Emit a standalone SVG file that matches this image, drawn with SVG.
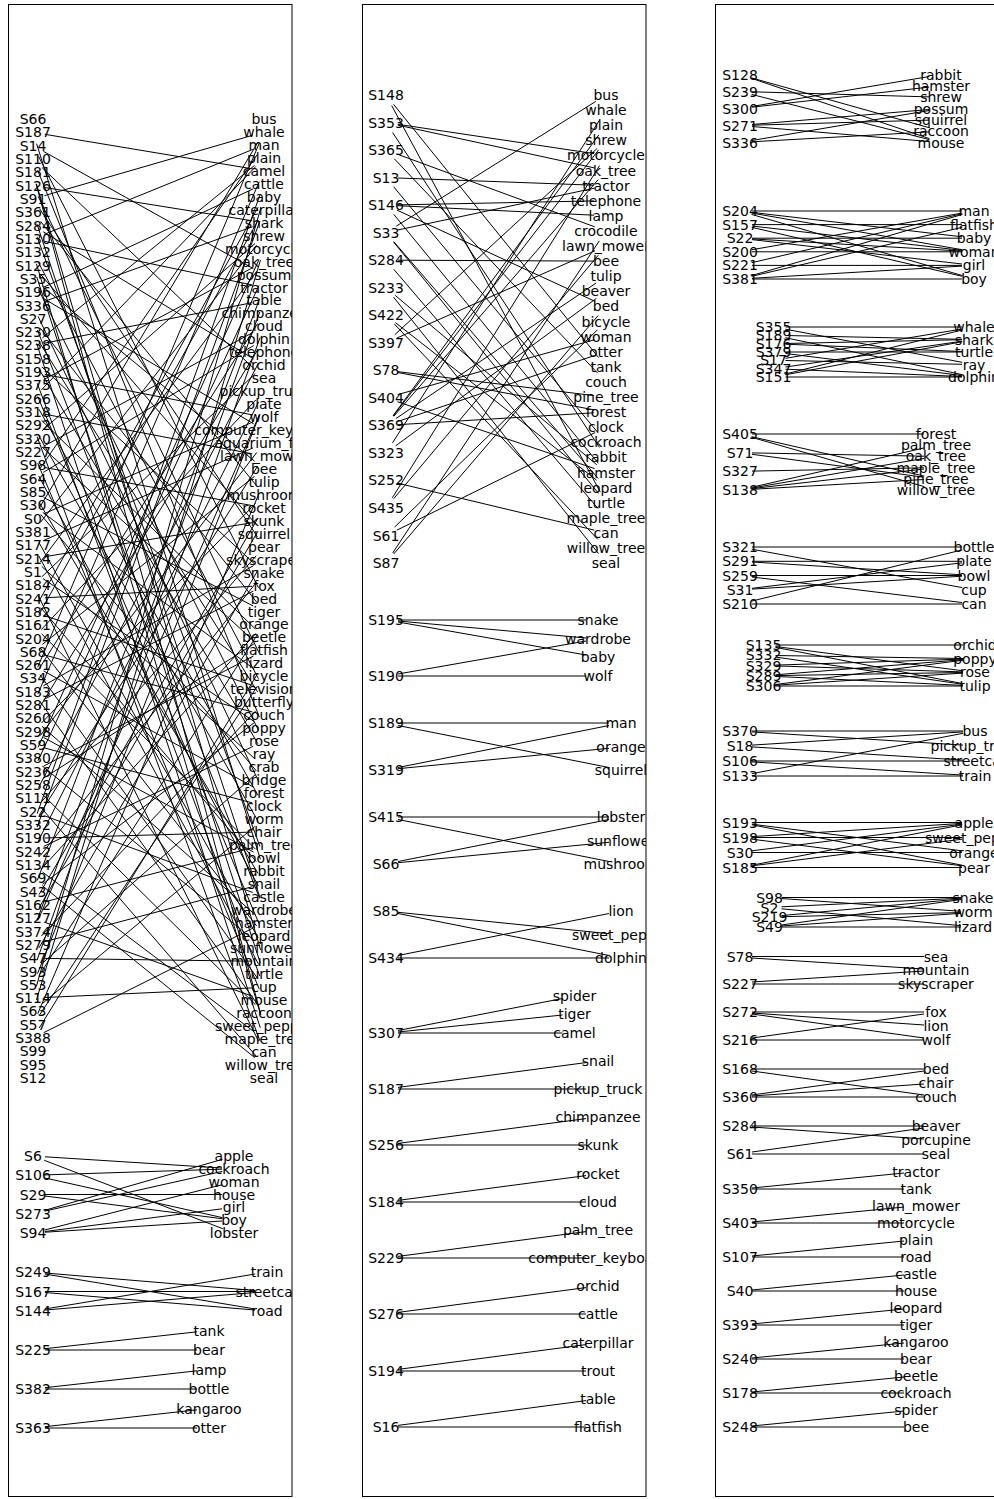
<svg xmlns="http://www.w3.org/2000/svg" width="994" height="1499" viewBox="0 0 994 1499">
<style>
text{font-family:"DejaVu Sans",sans-serif;font-size:14px;dominant-baseline:central;text-anchor:middle;fill:#000}
line{stroke:#000;stroke-width:1}
.frame{fill:#fff;stroke:#000;stroke-width:1}
</style>
<defs>
<clipPath id="c1"><rect x="8" y="4" width="284" height="1493"/></clipPath>
<clipPath id="c2"><rect x="362" y="4" width="284" height="1493"/></clipPath>
<clipPath id="c3"><rect x="715" y="4" width="284" height="1493"/></clipPath>
</defs>
<rect width="994" height="1499" fill="#fff"/>
<rect class="frame" x="8.5" y="4.5" width="283.5" height="1492"/>
<rect class="frame" x="362.5" y="4.5" width="283.5" height="1492"/>
<rect class="frame" x="715.5" y="4.5" width="290" height="1492"/>
<g id="connectors">
<g id="edges-panel1" clip-path="url(#c1)">
<line x1="44.8" y1="134.3" x2="252.2" y2="168.8"/><line x1="36.6" y1="143.7" x2="260.4" y2="859.3"/>
<line x1="38.5" y1="156.3" x2="258.5" y2="587.8"/><line x1="43.5" y1="151.4" x2="253.5" y2="268.7"/>
<line x1="41.7" y1="167.3" x2="255.3" y2="369.9"/><line x1="37.6" y1="170.1" x2="259.4" y2="717"/>
<line x1="36.4" y1="183.8" x2="260.6" y2="949.9"/><line x1="36.1" y1="183.9" x2="260.9" y2="1014.6"/>
<line x1="38.2" y1="196.4" x2="258.8" y2="652.5"/><line x1="44.8" y1="187.5" x2="252.2" y2="220.8"/>
<line x1="44.5" y1="195.6" x2="252.5" y2="135.3"/><line x1="39.6" y1="208.8" x2="257.4" y2="536.8"/>
<line x1="40.6" y1="221.5" x2="256.4" y2="485.5"/><line x1="36.8" y1="223.6" x2="260.2" y2="898.2"/>
<line x1="37.1" y1="236.9" x2="259.9" y2="846.4"/><line x1="43.3" y1="231.8" x2="253.7" y2="359"/>
<line x1="44.7" y1="241.4" x2="252.3" y2="285"/><line x1="44.1" y1="234.4" x2="252.9" y2="149.4"/>
<line x1="36.4" y1="263.7" x2="260.6" y2="1014.7"/><line x1="38.6" y1="262.8" x2="258.4" y2="678.6"/>
<line x1="40.8" y1="274.6" x2="256.2" y2="524.6"/><line x1="36.7" y1="276.9" x2="260.3" y2="963"/>
<line x1="38.4" y1="289.5" x2="258.6" y2="730.4"/><line x1="42.3" y1="286.4" x2="254.7" y2="461.3"/>
<line x1="43.3" y1="298.3" x2="253.7" y2="423.9"/><line x1="43.9" y1="287.1" x2="253.1" y2="188.9"/>
<line x1="44.3" y1="301.5" x2="252.7" y2="226.7"/><line x1="38.1" y1="316.4" x2="258.9" y2="782"/>
<line x1="37.4" y1="330" x2="259.6" y2="898.4"/><line x1="40.4" y1="328.2" x2="256.6" y2="602.1"/>
<line x1="39.3" y1="342.3" x2="257.7" y2="692"/><line x1="36.7" y1="343.5" x2="260.3" y2="1027.8"/>
<line x1="42.4" y1="337.9" x2="254.6" y2="165.4"/><line x1="44.8" y1="343.1" x2="252.2" y2="302.7"/>
<line x1="41.8" y1="366.9" x2="255.2" y2="564.5"/><line x1="39.1" y1="369.1" x2="257.9" y2="743.7"/>
<line x1="37.2" y1="383.3" x2="259.8" y2="976.1"/><line x1="44.8" y1="374.4" x2="252.2" y2="414.8"/>
<line x1="43.6" y1="379.7" x2="253.4" y2="267.3"/><line x1="37.7" y1="396.5" x2="259.3" y2="924.4"/>
<line x1="38.9" y1="409.2" x2="258.1" y2="795.4"/><line x1="41.3" y1="390" x2="255.7" y2="166.6"/>
<line x1="44.8" y1="414.2" x2="252.2" y2="453.8"/><line x1="41.6" y1="420.4" x2="255.4" y2="629"/>
<line x1="37.1" y1="436.7" x2="259.9" y2="1040.8"/><line x1="38.9" y1="435.9" x2="258.1" y2="821.3"/>
<line x1="41.8" y1="446.8" x2="255.2" y2="642.3"/><line x1="42" y1="430.8" x2="255" y2="243.5"/>
<line x1="43.5" y1="446.3" x2="253.5" y2="332.1"/><line x1="37.7" y1="463.1" x2="259.3" y2="989.2"/>
<line x1="38.7" y1="475.9" x2="258.3" y2="886"/><line x1="44.8" y1="467.5" x2="252.2" y2="505.6"/>
<line x1="39.8" y1="468.8" x2="257.2" y2="154.7"/><line x1="43.3" y1="472.4" x2="253.7" y2="345.5"/>
<line x1="43.7" y1="497.5" x2="253.3" y2="606"/><line x1="39.1" y1="502.3" x2="257.9" y2="873.3"/>
<line x1="40.7" y1="514.5" x2="256.3" y2="770.8"/><line x1="42.7" y1="512.4" x2="254.3" y2="669.2"/>
<line x1="44" y1="513.8" x2="253" y2="421.9"/><line x1="39.1" y1="508.3" x2="257.9" y2="142.3"/>
<line x1="40.4" y1="522.4" x2="256.6" y2="245.1"/><line x1="38.9" y1="542.4" x2="258.1" y2="937.9"/>
<line x1="38.7" y1="555.8" x2="258.3" y2="963.8"/><line x1="44" y1="540.3" x2="253" y2="447.9"/>
<line x1="44.8" y1="556.7" x2="252.2" y2="522.7"/><line x1="41.9" y1="566.6" x2="255.1" y2="759"/>
<line x1="43" y1="578.6" x2="254" y2="721.4"/><line x1="40.2" y1="562.3" x2="256.8" y2="271.2"/>
<line x1="41.7" y1="576.9" x2="255.3" y2="373.5"/><line x1="38.4" y1="596" x2="258.6" y2="1041.3"/>
<line x1="40.8" y1="607.7" x2="256.2" y2="861.5"/><line x1="45" y1="597.8" x2="252" y2="586.3"/>
<line x1="44.4" y1="615.6" x2="252.6" y2="685.4"/><line x1="38.9" y1="601.3" x2="258.1" y2="207.3"/>
<line x1="38.9" y1="614.7" x2="258.1" y2="220.2"/><line x1="41.5" y1="633.7" x2="255.5" y2="849.2"/>
<line x1="40.3" y1="648" x2="256.7" y2="926"/><line x1="41.2" y1="629.7" x2="255.8" y2="400"/>
<line x1="42.4" y1="644.4" x2="254.6" y2="476.3"/><line x1="44.6" y1="655" x2="252.4" y2="712"/>
<line x1="43.5" y1="670.9" x2="253.5" y2="787.1"/><line x1="40" y1="674.8" x2="257" y2="977.6"/>
<line x1="37.7" y1="667.3" x2="259.3" y2="143.1"/><line x1="39.4" y1="668.3" x2="257.6" y2="323.5"/>
<line x1="40" y1="701.5" x2="257" y2="1003.5"/><line x1="43.4" y1="685.8" x2="253.6" y2="565.6"/>
<line x1="43.7" y1="699.6" x2="253.3" y2="591.1"/><line x1="37.8" y1="694.1" x2="259.2" y2="181.8"/>
<line x1="39.2" y1="708.1" x2="257.8" y2="349.6"/><line x1="42" y1="726.3" x2="255" y2="914.6"/>
<line x1="43.5" y1="737.4" x2="253.5" y2="852"/><line x1="41.4" y1="723.1" x2="255.6" y2="503.4"/>
<line x1="40.3" y1="735.5" x2="256.7" y2="452.5"/><line x1="44.6" y1="748" x2="252.4" y2="802.9"/>
<line x1="42.3" y1="766" x2="254.7" y2="940.8"/><line x1="38" y1="747.4" x2="259" y2="259.6"/>
<line x1="38" y1="760.8" x2="259" y2="285.4"/><line x1="43.6" y1="766.1" x2="253.4" y2="656"/>
<line x1="43.1" y1="778.5" x2="253.9" y2="643.9"/><line x1="41.6" y1="793.5" x2="255.4" y2="1004.7"/>
<line x1="40.9" y1="807.4" x2="256.1" y2="1056"/><line x1="38.5" y1="787.6" x2="258.5" y2="363"/>
<line x1="40.9" y1="802.5" x2="256.1" y2="555.8"/><line x1="44.3" y1="815.7" x2="252.7" y2="892.5"/>
<line x1="37.1" y1="813.7" x2="259.9" y2="195.1"/><line x1="39.4" y1="814.8" x2="257.6" y2="466.2"/>
<line x1="45" y1="838" x2="252" y2="832.1"/><line x1="37.1" y1="827" x2="259.9" y2="221"/>
<line x1="38.4" y1="840.9" x2="258.6" y2="401.9"/><line x1="43.8" y1="846.4" x2="253.2" y2="746.3"/>
<line x1="42.6" y1="872.1" x2="254.4" y2="1032"/><line x1="40.4" y1="855.5" x2="256.6" y2="582"/>
<line x1="41.1" y1="869.3" x2="255.9" y2="633.3"/><line x1="42.3" y1="885.7" x2="254.7" y2="1057.6"/>
<line x1="42.5" y1="884.3" x2="254.5" y2="722.5"/><line x1="37.3" y1="880.4" x2="259.7" y2="298.7"/>
<line x1="39" y1="894.6" x2="258" y2="518.1"/><line x1="44.6" y1="901.9" x2="252.4" y2="847.8"/>
<line x1="44.3" y1="922.2" x2="252.7" y2="996.3"/><line x1="39" y1="907.9" x2="258" y2="531.1"/>
<line x1="37.1" y1="920.2" x2="259.9" y2="311.7"/><line x1="37.8" y1="920.5" x2="259.2" y2="415.1"/>
<line x1="44.6" y1="941.7" x2="252.4" y2="886.7"/><line x1="41.3" y1="936.1" x2="255.7" y2="710.9"/>
<line x1="39" y1="947.8" x2="258" y2="570"/><line x1="45" y1="958.4" x2="252" y2="961.2"/>
<line x1="42" y1="963.6" x2="255" y2="774.9"/><line x1="37" y1="960.2" x2="260" y2="337.7"/>
<line x1="37.5" y1="973.7" x2="259.5" y2="415.2"/><line x1="39.5" y1="974.7" x2="257.5" y2="634.5"/>
<line x1="45" y1="997.5" x2="252" y2="987.9"/><line x1="36.3" y1="986.6" x2="260.7" y2="208.3"/>
<line x1="36.5" y1="999.9" x2="260.5" y2="260.1"/><line x1="42.2" y1="1003.7" x2="254.8" y2="826.5"/>
<line x1="39.6" y1="1014.9" x2="257.4" y2="686.2"/><line x1="37.7" y1="1013.8" x2="259.3" y2="492.9"/>
<line x1="43.7" y1="1032.7" x2="253.3" y2="927.9"/><line x1="39.3" y1="1027.9" x2="257.7" y2="673.5"/>
<line x1="45" y1="1156.8" x2="222" y2="1168"/>
<line x1="44.2" y1="1160.3" x2="222.8" y2="1228.7"/>
<line x1="45" y1="1174.9" x2="222" y2="1169.2"/>
<line x1="44.7" y1="1177.9" x2="222.3" y2="1217.6"/>
<line x1="45" y1="1194.5" x2="222" y2="1194.5"/>
<line x1="44.9" y1="1196" x2="222.1" y2="1218.7"/>
<line x1="44.5" y1="1210.4" x2="222.5" y2="1159.3"/>
<line x1="44.7" y1="1211.1" x2="222.3" y2="1171.4"/>
<line x1="44.6" y1="1230" x2="222.4" y2="1184.7"/>
<line x1="44.9" y1="1231.5" x2="222.1" y2="1208.8"/>
<line x1="45" y1="1232.2" x2="222" y2="1221"/>
<line x1="45" y1="1273" x2="255" y2="1290.5"/>
<line x1="44.8" y1="1274" x2="255.2" y2="1309"/>
<line x1="45" y1="1291.5" x2="255" y2="1291.5"/>
<line x1="45" y1="1292.5" x2="255" y2="1310"/>
<line x1="44.8" y1="1309" x2="255.2" y2="1274"/>
<line x1="45" y1="1310" x2="255" y2="1292.5"/>
<line x1="45" y1="1348.7" x2="197" y2="1331.8"/>
<line x1="45" y1="1350" x2="197" y2="1350"/>
<line x1="45" y1="1387.7" x2="197" y2="1370.8"/>
<line x1="45" y1="1389" x2="197" y2="1389"/>
<line x1="45" y1="1426.7" x2="197" y2="1409.8"/>
<line x1="45" y1="1428" x2="197" y2="1428"/>
</g>
<g id="edges-panel2" clip-path="url(#c2)">
<line x1="393.5" y1="104.3" x2="598.5" y2="357.5"/><line x1="391.7" y1="105.6" x2="600.3" y2="492.1"/>
<line x1="397.9" y1="124.3" x2="594.1" y2="153.6"/><line x1="397.7" y1="125.1" x2="594.3" y2="167.9"/><line x1="392.6" y1="132.5" x2="599.4" y2="447.4"/>
<line x1="397.3" y1="154.2" x2="594.7" y2="226.8"/><line x1="394.3" y1="158.8" x2="597.7" y2="373.2"/>
<line x1="398" y1="178" x2="594" y2="185.2"/><line x1="393.7" y1="186.8" x2="598.3" y2="433.1"/>
<line x1="398" y1="204.9" x2="594" y2="200.9"/><line x1="398" y1="205.7" x2="594" y2="215.2"/><line x1="396.9" y1="210.1" x2="595.1" y2="301.4"/><line x1="393.7" y1="214.3" x2="598.3" y2="463.3"/>
<line x1="396.2" y1="226.2" x2="595.8" y2="101.4"/><line x1="397.7" y1="230" x2="594.3" y2="188.2"/><line x1="393.8" y1="241.7" x2="598.2" y2="478.5"/><line x1="393.5" y1="241.9" x2="598.5" y2="493.4"/>
<line x1="398" y1="260.2" x2="594" y2="261.1"/><line x1="393.8" y1="269.3" x2="598.2" y2="508.7"/>
<line x1="395.2" y1="295.4" x2="596.8" y2="464.8"/><line x1="393.5" y1="297.1" x2="598.5" y2="553.6"/>
<line x1="395.4" y1="322.6" x2="596.6" y2="480.2"/><line x1="394.3" y1="323.9" x2="597.7" y2="539.3"/>
<line x1="394.8" y1="334.7" x2="597.2" y2="148.4"/><line x1="397" y1="338" x2="595" y2="250.8"/>
<line x1="397.9" y1="371.7" x2="594.1" y2="395.6"/><line x1="397.8" y1="372.5" x2="594.2" y2="409.9"/>
<line x1="397.6" y1="394.6" x2="594.4" y2="339.8"/><line x1="397.4" y1="401.7" x2="594.6" y2="468.6"/>
<line x1="393.1" y1="415.7" x2="598.9" y2="134.9"/><line x1="393.3" y1="415.9" x2="598.7" y2="149.8"/><line x1="393.8" y1="416.3" x2="598.2" y2="179.6"/><line x1="395.9" y1="418.6" x2="596.1" y2="283"/><line x1="397.4" y1="421.6" x2="594.6" y2="355.5"/><line x1="398" y1="424.7" x2="594" y2="412.8"/>
<line x1="392.5" y1="442.8" x2="599.5" y2="120.2"/><line x1="395.7" y1="445.8" x2="596.3" y2="298.4"/>
<line x1="397.7" y1="483.2" x2="594.3" y2="530.1"/>
<line x1="392.4" y1="497.7" x2="599.6" y2="165.6"/><line x1="393.7" y1="498.7" x2="598.3" y2="255.2"/>
<line x1="394.6" y1="527.1" x2="597.4" y2="329.9"/><line x1="396.8" y1="530.2" x2="595.2" y2="432.5"/>
<line x1="392.7" y1="553" x2="599.3" y2="240.9"/><line x1="393.8" y1="553.9" x2="598.2" y2="315.5"/>
<line x1="398" y1="620" x2="586" y2="620"/>
<line x1="398" y1="621" x2="586" y2="638"/>
<line x1="398" y1="622" x2="586" y2="655"/>
<line x1="398" y1="674" x2="586" y2="641"/>
<line x1="398" y1="676" x2="586" y2="676"/>
<line x1="398" y1="723" x2="609" y2="723"/>
<line x1="398" y1="725.5" x2="609" y2="767.5"/>
<line x1="398" y1="767.5" x2="609" y2="725.5"/>
<line x1="398" y1="768.7" x2="609" y2="748.3"/>
<line x1="398" y1="817" x2="609" y2="817"/>
<line x1="398" y1="819.5" x2="609" y2="861.5"/>
<line x1="398" y1="861.5" x2="609" y2="819.5"/>
<line x1="398" y1="862.7" x2="609" y2="842.3"/>
<line x1="398" y1="912.3" x2="609" y2="933.7"/>
<line x1="398" y1="913.5" x2="609" y2="955.5"/>
<line x1="398" y1="955.5" x2="609" y2="913.5"/>
<line x1="398" y1="958" x2="609" y2="958"/>
<line x1="398" y1="1030.5" x2="562.5" y2="998.5"/>
<line x1="398" y1="1032" x2="562.5" y2="1015"/>
<line x1="398" y1="1033" x2="562.5" y2="1033"/>
<line x1="398" y1="1087.4" x2="586" y2="1062.6"/>
<line x1="398" y1="1089" x2="586" y2="1089"/>
<line x1="398" y1="1143.4" x2="586" y2="1118.6"/>
<line x1="398" y1="1145" x2="586" y2="1145"/>
<line x1="398" y1="1200.4" x2="586" y2="1175.6"/>
<line x1="398" y1="1202" x2="586" y2="1202"/>
<line x1="398" y1="1256.4" x2="586" y2="1231.6"/>
<line x1="398" y1="1258" x2="586" y2="1258"/>
<line x1="398" y1="1312.4" x2="586" y2="1287.6"/>
<line x1="398" y1="1314" x2="586" y2="1314"/>
<line x1="398" y1="1369.4" x2="586" y2="1344.6"/>
<line x1="398" y1="1371" x2="586" y2="1371"/>
<line x1="398" y1="1425.4" x2="586" y2="1400.6"/>
<line x1="398" y1="1427" x2="586" y2="1427"/>
</g>
<g id="edges-panel3" clip-path="url(#c3)">
<line x1="751.5" y1="77.9" x2="929.5" y2="127.8"/><line x1="751.4" y1="78.3" x2="929.6" y2="138.7"/>
<line x1="752" y1="91.8" x2="929" y2="96.9"/><line x1="751.6" y1="94.4" x2="929.4" y2="139.6"/>
<line x1="751.8" y1="106.5" x2="929.2" y2="76.5"/><line x1="751.9" y1="107.2" x2="929.1" y2="87.1"/>
<line x1="752" y1="124.5" x2="929" y2="109.5"/><line x1="752" y1="125.2" x2="929" y2="120.1"/><line x1="752" y1="126.5" x2="929" y2="141.5"/>
<line x1="751.8" y1="140.5" x2="929.2" y2="110.5"/><line x1="752" y1="141.8" x2="929" y2="131.9"/>
<line x1="752" y1="211" x2="962" y2="211"/><line x1="752" y1="212.4" x2="962" y2="236.8"/><line x1="752" y1="213.1" x2="962" y2="249.7"/><line x1="751.5" y1="214.4" x2="962.5" y2="275.6"/>
<line x1="752" y1="224.6" x2="962" y2="224.6"/><line x1="752" y1="226" x2="962" y2="250.4"/><line x1="751.7" y1="227.3" x2="962.3" y2="276.3"/>
<line x1="752" y1="238.2" x2="962" y2="238.2"/><line x1="752" y1="238.9" x2="962" y2="251.1"/><line x1="752" y1="239.6" x2="962" y2="264"/>
<line x1="752" y1="249.7" x2="962" y2="213.1"/><line x1="752" y1="251.8" x2="962" y2="251.8"/>
<line x1="751.7" y1="262.7" x2="962.3" y2="213.7"/><line x1="752" y1="265.4" x2="962" y2="265.4"/>
<line x1="751.5" y1="275.6" x2="962.5" y2="214.4"/><line x1="751.7" y1="276.3" x2="962.3" y2="227.3"/><line x1="752" y1="278.3" x2="962" y2="266.1"/><line x1="752" y1="279" x2="962" y2="279"/>
<line x1="785.5" y1="327" x2="962" y2="327"/><line x1="785.3" y1="329.2" x2="962.2" y2="362.3"/>
<line x1="785.5" y1="335.5" x2="962" y2="339.3"/><line x1="785.3" y1="337.7" x2="962.2" y2="374.6"/>
<line x1="785.5" y1="343.5" x2="962" y2="339.7"/><line x1="785.5" y1="344.2" x2="962" y2="351.5"/>
<line x1="785.5" y1="352" x2="962" y2="352"/><line x1="785.5" y1="353.5" x2="962" y2="375.5"/>
<line x1="785.5" y1="358.3" x2="962" y2="329"/><line x1="785.5" y1="360.5" x2="962" y2="364.3"/>
<line x1="785.5" y1="367" x2="962" y2="341.2"/><line x1="785.5" y1="369.2" x2="962" y2="376.5"/>
<line x1="785.1" y1="374.1" x2="962.4" y2="329.9"/><line x1="785.3" y1="374.8" x2="962.2" y2="341.7"/><line x1="785.5" y1="377" x2="962" y2="377"/>
<line x1="752" y1="434" x2="924" y2="434"/><line x1="751.7" y1="436.7" x2="924.3" y2="476.1"/><line x1="751.5" y1="437.3" x2="924.5" y2="486.7"/>
<line x1="752" y1="452.9" x2="924" y2="456.2"/><line x1="752" y1="454.3" x2="924" y2="477.2"/>
<line x1="752" y1="471.1" x2="924" y2="467.8"/>
<line x1="751.7" y1="487.3" x2="924.3" y2="447.9"/><line x1="751.8" y1="488" x2="924.2" y2="458.4"/><line x1="752" y1="488.6" x2="924" y2="469"/><line x1="752" y1="489.3" x2="924" y2="479.5"/>
<line x1="752" y1="547" x2="962" y2="547"/><line x1="751.8" y1="549.2" x2="962.2" y2="587.6"/>
<line x1="752" y1="561.3" x2="962" y2="561.3"/><line x1="752" y1="562" x2="962" y2="574.8"/>
<line x1="752" y1="575.5" x2="962" y2="575.5"/><line x1="752" y1="577" x2="962" y2="602.5"/>
<line x1="752" y1="588.3" x2="962" y2="562.8"/><line x1="752" y1="589.1" x2="962" y2="576.2"/>
<line x1="751.7" y1="601.1" x2="962.3" y2="549.9"/><line x1="752" y1="604" x2="962" y2="604"/>
<line x1="775.5" y1="645" x2="963" y2="645"/><line x1="775.5" y1="646.5" x2="963" y2="670.8"/><line x1="775.3" y1="647.3" x2="963.2" y2="683.7"/>
<line x1="775.5" y1="655.5" x2="963" y2="658.5"/><line x1="775.5" y1="657" x2="963" y2="684.3"/>
<line x1="775.5" y1="665.1" x2="963" y2="659.1"/><line x1="775.5" y1="665.9" x2="963" y2="671.9"/>
<line x1="775.5" y1="674.8" x2="963" y2="659.7"/><line x1="775.5" y1="675.6" x2="963" y2="672.5"/><line x1="775.5" y1="676.4" x2="963" y2="685.4"/>
<line x1="775.5" y1="684.5" x2="963" y2="660.2"/><line x1="775.5" y1="685.2" x2="963" y2="673.1"/><line x1="775.5" y1="686" x2="963" y2="686"/>
<line x1="752" y1="731" x2="963" y2="731"/><line x1="752" y1="731.9" x2="963" y2="745.1"/>
<line x1="752" y1="745.1" x2="963" y2="731.9"/><line x1="752" y1="746.9" x2="963" y2="760.1"/>
<line x1="752" y1="761" x2="963" y2="761"/><line x1="752" y1="761.9" x2="963" y2="775.1"/>
<line x1="751.8" y1="773.7" x2="963.2" y2="733.3"/><line x1="752" y1="776" x2="963" y2="776"/>
<line x1="752" y1="822.5" x2="962" y2="822.5"/><line x1="752" y1="824.2" x2="962" y2="850.8"/><line x1="751.8" y1="824.8" x2="962.2" y2="865.2"/>
<line x1="752" y1="836.6" x2="962" y2="823.4"/><line x1="752" y1="837.5" x2="962" y2="837.5"/><line x1="752" y1="839.2" x2="962" y2="865.8"/>
<line x1="752" y1="850.8" x2="962" y2="824.2"/><line x1="752" y1="852.5" x2="962" y2="852.5"/>
<line x1="751.8" y1="865.2" x2="962.2" y2="824.8"/><line x1="752" y1="865.8" x2="962" y2="839.2"/><line x1="752" y1="867.5" x2="962" y2="867.5"/>
<line x1="781.5" y1="897.5" x2="961" y2="897.5"/><line x1="781.5" y1="898.5" x2="961" y2="911.3"/>
<line x1="781.5" y1="906.8" x2="961" y2="898.2"/><line x1="781.5" y1="908.8" x2="961" y2="925.7"/>
<line x1="781.5" y1="915.6" x2="961" y2="898.9"/><line x1="781.5" y1="916.7" x2="961" y2="912.6"/>
<line x1="781.5" y1="925" x2="961" y2="899.5"/><line x1="781.5" y1="926" x2="961" y2="913.3"/><line x1="781.5" y1="927" x2="961" y2="927"/>
<line x1="752" y1="956.5" x2="924" y2="956.5"/>
<line x1="752" y1="958" x2="924" y2="969"/>
<line x1="752" y1="982" x2="924" y2="971"/>
<line x1="752" y1="984" x2="924" y2="984"/>
<line x1="752" y1="1012" x2="924" y2="1012"/>
<line x1="752" y1="1013" x2="924" y2="1025"/>
<line x1="752" y1="1014" x2="924" y2="1038"/>
<line x1="752" y1="1038" x2="924" y2="1014"/>
<line x1="752" y1="1040" x2="924" y2="1040"/>
<line x1="752" y1="1069" x2="924" y2="1069"/>
<line x1="752" y1="1071" x2="924" y2="1095"/>
<line x1="752" y1="1095" x2="924" y2="1071"/>
<line x1="752" y1="1096" x2="924" y2="1084"/>
<line x1="752" y1="1097" x2="924" y2="1097"/>
<line x1="752" y1="1126" x2="924" y2="1126"/>
<line x1="752" y1="1127" x2="924" y2="1139"/>
<line x1="752" y1="1152" x2="924" y2="1128"/>
<line x1="752" y1="1154" x2="924" y2="1154"/>
<line x1="752" y1="1188" x2="904" y2="1173"/>
<line x1="752" y1="1189" x2="904" y2="1189"/>
<line x1="752" y1="1222" x2="904" y2="1207"/>
<line x1="752" y1="1223" x2="904" y2="1223"/>
<line x1="752" y1="1256" x2="904" y2="1241"/>
<line x1="752" y1="1257" x2="904" y2="1257"/>
<line x1="752" y1="1290" x2="904" y2="1275"/>
<line x1="752" y1="1291" x2="904" y2="1291"/>
<line x1="752" y1="1324" x2="904" y2="1309"/>
<line x1="752" y1="1325" x2="904" y2="1325"/>
<line x1="752" y1="1358" x2="904" y2="1343"/>
<line x1="752" y1="1359" x2="904" y2="1359"/>
<line x1="752" y1="1392" x2="904" y2="1377"/>
<line x1="752" y1="1393" x2="904" y2="1393"/>
<line x1="752" y1="1426" x2="904" y2="1411"/>
<line x1="752" y1="1427" x2="904" y2="1427"/>
</g>
</g>
<g id="nodes-panel1" clip-path="url(#c1)">
<g id="p1-S66"><text x="33" y="119">S66</text></g>
<g id="p1-S187"><text x="33" y="132.3">S187</text></g>
<g id="p1-S14"><text x="33" y="145.6">S14</text></g>
<g id="p1-S110"><text x="33" y="159">S110</text></g>
<g id="p1-S181"><text x="33" y="172.3">S181</text></g>
<g id="p1-S126"><text x="33" y="185.6">S126</text></g>
<g id="p1-S91"><text x="33" y="198.9">S91</text></g>
<g id="p1-S361"><text x="33" y="212.2">S361</text></g>
<g id="p1-S284"><text x="33" y="225.6">S284</text></g>
<g id="p1-S130"><text x="33" y="238.9">S130</text></g>
<g id="p1-S132"><text x="33" y="252.2">S132</text></g>
<g id="p1-S129"><text x="33" y="265.5">S129</text></g>
<g id="p1-S35"><text x="33" y="278.8">S35</text></g>
<g id="p1-S196"><text x="33" y="292.2">S196</text></g>
<g id="p1-S336"><text x="33" y="305.5">S336</text></g>
<g id="p1-S27"><text x="33" y="318.8">S27</text></g>
<g id="p1-S230"><text x="33" y="332.1">S230</text></g>
<g id="p1-S238"><text x="33" y="345.4">S238</text></g>
<g id="p1-S158"><text x="33" y="358.8">S158</text></g>
<g id="p1-S193"><text x="33" y="372.1">S193</text></g>
<g id="p1-S375"><text x="33" y="385.4">S375</text></g>
<g id="p1-S266"><text x="33" y="398.7">S266</text></g>
<g id="p1-S318"><text x="33" y="412">S318</text></g>
<g id="p1-S292"><text x="33" y="425.4">S292</text></g>
<g id="p1-S320"><text x="33" y="438.7">S320</text></g>
<g id="p1-S227"><text x="33" y="452">S227</text></g>
<g id="p1-S98"><text x="33" y="465.3">S98</text></g>
<g id="p1-S64"><text x="33" y="478.6">S64</text></g>
<g id="p1-S85"><text x="33" y="492">S85</text></g>
<g id="p1-S30"><text x="33" y="505.3">S30</text></g>
<g id="p1-S0"><text x="33" y="518.6">S0</text></g>
<g id="p1-S381"><text x="33" y="531.9">S381</text></g>
<g id="p1-S177"><text x="33" y="545.2">S177</text></g>
<g id="p1-S214"><text x="33" y="558.6">S214</text></g>
<g id="p1-S1"><text x="33" y="571.9">S1</text></g>
<g id="p1-S184"><text x="33" y="585.2">S184</text></g>
<g id="p1-S241"><text x="33" y="598.5">S241</text></g>
<g id="p1-S182"><text x="33" y="611.8">S182</text></g>
<g id="p1-S161"><text x="33" y="625.2">S161</text></g>
<g id="p1-S204"><text x="33" y="638.5">S204</text></g>
<g id="p1-S68"><text x="33" y="651.8">S68</text></g>
<g id="p1-S261"><text x="33" y="665.1">S261</text></g>
<g id="p1-S34"><text x="33" y="678.4">S34</text></g>
<g id="p1-S183"><text x="33" y="691.8">S183</text></g>
<g id="p1-S281"><text x="33" y="705.1">S281</text></g>
<g id="p1-S260"><text x="33" y="718.4">S260</text></g>
<g id="p1-S298"><text x="33" y="731.7">S298</text></g>
<g id="p1-S59"><text x="33" y="745">S59</text></g>
<g id="p1-S380"><text x="33" y="758.4">S380</text></g>
<g id="p1-S236"><text x="33" y="771.7">S236</text></g>
<g id="p1-S258"><text x="33" y="785">S258</text></g>
<g id="p1-S111"><text x="33" y="798.3">S111</text></g>
<g id="p1-S22"><text x="33" y="811.6">S22</text></g>
<g id="p1-S332"><text x="33" y="825">S332</text></g>
<g id="p1-S190"><text x="33" y="838.3">S190</text></g>
<g id="p1-S242"><text x="33" y="851.6">S242</text></g>
<g id="p1-S134"><text x="33" y="864.9">S134</text></g>
<g id="p1-S69"><text x="33" y="878.2">S69</text></g>
<g id="p1-S43"><text x="33" y="891.6">S43</text></g>
<g id="p1-S162"><text x="33" y="904.9">S162</text></g>
<g id="p1-S127"><text x="33" y="918.2">S127</text></g>
<g id="p1-S374"><text x="33" y="931.5">S374</text></g>
<g id="p1-S279"><text x="33" y="944.8">S279</text></g>
<g id="p1-S47"><text x="33" y="958.2">S47</text></g>
<g id="p1-S93"><text x="33" y="971.5">S93</text></g>
<g id="p1-S53"><text x="33" y="984.8">S53</text></g>
<g id="p1-S114"><text x="33" y="998.1">S114</text></g>
<g id="p1-S63"><text x="33" y="1011.4">S63</text></g>
<g id="p1-S57"><text x="33" y="1024.8">S57</text></g>
<g id="p1-S388"><text x="33" y="1038.1">S388</text></g>
<g id="p1-S99"><text x="33" y="1051.4">S99</text></g>
<g id="p1-S95"><text x="33" y="1064.7">S95</text></g>
<g id="p1-S12"><text x="33" y="1078">S12</text></g>
<g id="p1-bus"><text x="264" y="119">bus</text></g>
<g id="p1-whale"><text x="264" y="132">whale</text></g>
<g id="p1-man"><text x="264" y="144.9">man</text></g>
<g id="p1-plain"><text x="264" y="157.9">plain</text></g>
<g id="p1-camel"><text x="264" y="170.8">camel</text></g>
<g id="p1-cattle"><text x="264" y="183.8">cattle</text></g>
<g id="p1-baby"><text x="264" y="196.8">baby</text></g>
<g id="p1-caterpillar"><text x="264" y="209.7">caterpillar</text></g>
<g id="p1-shark"><text x="264" y="222.7">shark</text></g>
<g id="p1-shrew"><text x="264" y="235.6">shrew</text></g>
<g id="p1-motorcycle"><text x="264" y="248.6">motorcycle</text></g>
<g id="p1-oak_tree"><text x="264" y="261.6">oak_tree</text></g>
<g id="p1-possum"><text x="264" y="274.5">possum</text></g>
<g id="p1-tractor"><text x="264" y="287.5">tractor</text></g>
<g id="p1-table"><text x="264" y="300.4">table</text></g>
<g id="p1-chimpanzee"><text x="264" y="313.4">chimpanzee</text></g>
<g id="p1-cloud"><text x="264" y="326.4">cloud</text></g>
<g id="p1-dolphin"><text x="264" y="339.3">dolphin</text></g>
<g id="p1-telephone"><text x="264" y="352.3">telephone</text></g>
<g id="p1-orchid"><text x="264" y="365.2">orchid</text></g>
<g id="p1-sea"><text x="264" y="378.2">sea</text></g>
<g id="p1-pickup_truck"><text x="264" y="391.2">pickup_truck</text></g>
<g id="p1-plate"><text x="264" y="404.1">plate</text></g>
<g id="p1-wolf"><text x="264" y="417.1">wolf</text></g>
<g id="p1-computer_keyboard"><text x="264" y="430">computer_keyboard</text></g>
<g id="p1-aquarium_fish"><text x="264" y="443">aquarium_fish</text></g>
<g id="p1-lawn_mower"><text x="264" y="456">lawn_mower</text></g>
<g id="p1-bee"><text x="264" y="468.9">bee</text></g>
<g id="p1-tulip"><text x="264" y="481.9">tulip</text></g>
<g id="p1-mushroom"><text x="264" y="494.8">mushroom</text></g>
<g id="p1-rocket"><text x="264" y="507.8">rocket</text></g>
<g id="p1-skunk"><text x="264" y="520.8">skunk</text></g>
<g id="p1-squirrel"><text x="264" y="533.7">squirrel</text></g>
<g id="p1-pear"><text x="264" y="546.7">pear</text></g>
<g id="p1-skyscraper"><text x="264" y="559.6">skyscraper</text></g>
<g id="p1-snake"><text x="264" y="572.6">snake</text></g>
<g id="p1-fox"><text x="264" y="585.6">fox</text></g>
<g id="p1-bed"><text x="264" y="598.5">bed</text></g>
<g id="p1-tiger"><text x="264" y="611.5">tiger</text></g>
<g id="p1-orange"><text x="264" y="624.4">orange</text></g>
<g id="p1-beetle"><text x="264" y="637.4">beetle</text></g>
<g id="p1-flatfish"><text x="264" y="650.4">flatfish</text></g>
<g id="p1-lizard"><text x="264" y="663.3">lizard</text></g>
<g id="p1-bicycle"><text x="264" y="676.3">bicycle</text></g>
<g id="p1-television"><text x="264" y="689.2">television</text></g>
<g id="p1-butterfly"><text x="264" y="702.2">butterfly</text></g>
<g id="p1-couch"><text x="264" y="715.2">couch</text></g>
<g id="p1-poppy"><text x="264" y="728.1">poppy</text></g>
<g id="p1-rose"><text x="264" y="741.1">rose</text></g>
<g id="p1-ray"><text x="264" y="754">ray</text></g>
<g id="p1-crab"><text x="264" y="767">crab</text></g>
<g id="p1-bridge"><text x="264" y="780">bridge</text></g>
<g id="p1-forest"><text x="264" y="792.9">forest</text></g>
<g id="p1-clock"><text x="264" y="805.9">clock</text></g>
<g id="p1-worm"><text x="264" y="818.8">worm</text></g>
<g id="p1-chair"><text x="264" y="831.8">chair</text></g>
<g id="p1-palm_tree"><text x="264" y="844.8">palm_tree</text></g>
<g id="p1-bowl"><text x="264" y="857.7">bowl</text></g>
<g id="p1-rabbit"><text x="264" y="870.7">rabbit</text></g>
<g id="p1-snail"><text x="264" y="883.6">snail</text></g>
<g id="p1-castle"><text x="264" y="896.6">castle</text></g>
<g id="p1-wardrobe"><text x="264" y="909.6">wardrobe</text></g>
<g id="p1-hamster"><text x="264" y="922.5">hamster</text></g>
<g id="p1-leopard"><text x="264" y="935.5">leopard</text></g>
<g id="p1-sunflower"><text x="264" y="948.4">sunflower</text></g>
<g id="p1-mountain"><text x="264" y="961.4">mountain</text></g>
<g id="p1-turtle"><text x="264" y="974.4">turtle</text></g>
<g id="p1-cup"><text x="264" y="987.3">cup</text></g>
<g id="p1-mouse"><text x="264" y="1000.3">mouse</text></g>
<g id="p1-raccoon"><text x="264" y="1013.2">raccoon</text></g>
<g id="p1-sweet_pepper"><text x="264" y="1026.2">sweet_pepper</text></g>
<g id="p1-maple_tree"><text x="264" y="1039.2">maple_tree</text></g>
<g id="p1-can"><text x="264" y="1052.1">can</text></g>
<g id="p1-willow_tree"><text x="264" y="1065.1">willow_tree</text></g>
<g id="p1-seal"><text x="264" y="1078">seal</text></g>
<g id="p1-S6"><text x="33" y="1156">S6</text></g>
<g id="p1-S106"><text x="33" y="1175.3">S106</text></g>
<g id="p1-S29"><text x="33" y="1194.5">S29</text></g>
<g id="p1-S273"><text x="33" y="1213.8">S273</text></g>
<g id="p1-S94"><text x="33" y="1233">S94</text></g>
<g id="p1-apple"><text x="234" y="1156">apple</text></g>
<g id="p1-cockroach"><text x="234" y="1168.8">cockroach</text></g>
<g id="p1-woman"><text x="234" y="1181.7">woman</text></g>
<g id="p1-house"><text x="234" y="1194.5">house</text></g>
<g id="p1-girl"><text x="234" y="1207.3">girl</text></g>
<g id="p1-boy"><text x="234" y="1220.2">boy</text></g>
<g id="p1-lobster"><text x="234" y="1233">lobster</text></g>
<g id="p1-S249"><text x="33" y="1272">S249</text></g>
<g id="p1-S167"><text x="33" y="1291.5">S167</text></g>
<g id="p1-S144"><text x="33" y="1311">S144</text></g>
<g id="p1-train"><text x="267" y="1272">train</text></g>
<g id="p1-streetcar"><text x="267" y="1291.5">streetcar</text></g>
<g id="p1-road"><text x="267" y="1311">road</text></g>
<g id="p1-S225"><text x="33" y="1350">S225</text></g>
<g id="p1-tank"><text x="209" y="1330.5">tank</text></g>
<g id="p1-bear"><text x="209" y="1350">bear</text></g>
<g id="p1-S382"><text x="33" y="1389">S382</text></g>
<g id="p1-lamp"><text x="209" y="1369.5">lamp</text></g>
<g id="p1-bottle"><text x="209" y="1389">bottle</text></g>
<g id="p1-S363"><text x="33" y="1428">S363</text></g>
<g id="p1-kangaroo"><text x="209" y="1408.5">kangaroo</text></g>
<g id="p1-otter"><text x="209" y="1428">otter</text></g>
</g>
<g id="nodes-panel2" clip-path="url(#c2)">
<g id="p2-S148"><text x="386" y="95">S148</text></g>
<g id="p2-S353"><text x="386" y="122.5">S353</text></g>
<g id="p2-S365"><text x="386" y="150.1">S365</text></g>
<g id="p2-S13"><text x="386" y="177.6">S13</text></g>
<g id="p2-S146"><text x="386" y="205.1">S146</text></g>
<g id="p2-S33"><text x="386" y="232.6">S33</text></g>
<g id="p2-S284"><text x="386" y="260.2">S284</text></g>
<g id="p2-S233"><text x="386" y="287.7">S233</text></g>
<g id="p2-S422"><text x="386" y="315.2">S422</text></g>
<g id="p2-S397"><text x="386" y="342.8">S397</text></g>
<g id="p2-S78"><text x="386" y="370.3">S78</text></g>
<g id="p2-S404"><text x="386" y="397.8">S404</text></g>
<g id="p2-S369"><text x="386" y="425.4">S369</text></g>
<g id="p2-S323"><text x="386" y="452.9">S323</text></g>
<g id="p2-S252"><text x="386" y="480.4">S252</text></g>
<g id="p2-S435"><text x="386" y="507.9">S435</text></g>
<g id="p2-S61"><text x="386" y="535.5">S61</text></g>
<g id="p2-S87"><text x="386" y="563">S87</text></g>
<g id="p2-bus"><text x="606" y="95">bus</text></g>
<g id="p2-whale"><text x="606" y="110.1">whale</text></g>
<g id="p2-plain"><text x="606" y="125.2">plain</text></g>
<g id="p2-shrew"><text x="606" y="140.3">shrew</text></g>
<g id="p2-motorcycle"><text x="606" y="155.4">motorcycle</text></g>
<g id="p2-oak_tree"><text x="606" y="170.5">oak_tree</text></g>
<g id="p2-tractor"><text x="606" y="185.6">tractor</text></g>
<g id="p2-telephone"><text x="606" y="200.7">telephone</text></g>
<g id="p2-lamp"><text x="606" y="215.8">lamp</text></g>
<g id="p2-crocodile"><text x="606" y="230.9">crocodile</text></g>
<g id="p2-lawn_mower"><text x="606" y="246">lawn_mower</text></g>
<g id="p2-bee"><text x="606" y="261.1">bee</text></g>
<g id="p2-tulip"><text x="606" y="276.2">tulip</text></g>
<g id="p2-beaver"><text x="606" y="291.3">beaver</text></g>
<g id="p2-bed"><text x="606" y="306.4">bed</text></g>
<g id="p2-bicycle"><text x="606" y="321.5">bicycle</text></g>
<g id="p2-woman"><text x="606" y="336.6">woman</text></g>
<g id="p2-otter"><text x="606" y="351.7">otter</text></g>
<g id="p2-tank"><text x="606" y="366.8">tank</text></g>
<g id="p2-couch"><text x="606" y="381.9">couch</text></g>
<g id="p2-pine_tree"><text x="606" y="397">pine_tree</text></g>
<g id="p2-forest"><text x="606" y="412.1">forest</text></g>
<g id="p2-clock"><text x="606" y="427.2">clock</text></g>
<g id="p2-cockroach"><text x="606" y="442.3">cockroach</text></g>
<g id="p2-rabbit"><text x="606" y="457.4">rabbit</text></g>
<g id="p2-hamster"><text x="606" y="472.5">hamster</text></g>
<g id="p2-leopard"><text x="606" y="487.6">leopard</text></g>
<g id="p2-turtle"><text x="606" y="502.7">turtle</text></g>
<g id="p2-maple_tree"><text x="606" y="517.8">maple_tree</text></g>
<g id="p2-can"><text x="606" y="532.9">can</text></g>
<g id="p2-willow_tree"><text x="606" y="548">willow_tree</text></g>
<g id="p2-seal"><text x="606" y="563">seal</text></g>
<g id="p2-S195"><text x="386" y="620">S195</text></g>
<g id="p2-S190"><text x="386" y="676">S190</text></g>
<g id="p2-snake"><text x="598" y="620">snake</text></g>
<g id="p2-wardrobe"><text x="598" y="639">wardrobe</text></g>
<g id="p2-baby"><text x="598" y="657">baby</text></g>
<g id="p2-wolf"><text x="598" y="676">wolf</text></g>
<g id="p2-S189"><text x="386" y="723">S189</text></g>
<g id="p2-S319"><text x="386" y="770">S319</text></g>
<g id="p2-man"><text x="621" y="723">man</text></g>
<g id="p2-orange"><text x="621" y="747">orange</text></g>
<g id="p2-squirrel"><text x="621" y="770">squirrel</text></g>
<g id="p2-S415"><text x="386" y="817">S415</text></g>
<g id="p2-S66"><text x="386" y="864">S66</text></g>
<g id="p2-lobster"><text x="621" y="817">lobster</text></g>
<g id="p2-sunflower"><text x="621" y="841">sunflower</text></g>
<g id="p2-mushroom"><text x="621" y="864">mushroom</text></g>
<g id="p2-S85"><text x="386" y="911">S85</text></g>
<g id="p2-S434"><text x="386" y="958">S434</text></g>
<g id="p2-lion"><text x="621" y="911">lion</text></g>
<g id="p2-sweet_pepper"><text x="621" y="935">sweet_pepper</text></g>
<g id="p2-dolphin"><text x="621" y="958">dolphin</text></g>
<g id="p2-S307"><text x="386" y="1033">S307</text></g>
<g id="p2-spider"><text x="574.5" y="996">spider</text></g>
<g id="p2-tiger"><text x="574.5" y="1014">tiger</text></g>
<g id="p2-camel"><text x="574.5" y="1033">camel</text></g>
<g id="p2-S187"><text x="386" y="1089">S187</text></g>
<g id="p2-snail"><text x="598" y="1061">snail</text></g>
<g id="p2-pickup_truck"><text x="598" y="1089">pickup_truck</text></g>
<g id="p2-S256"><text x="386" y="1145">S256</text></g>
<g id="p2-chimpanzee"><text x="598" y="1117">chimpanzee</text></g>
<g id="p2-skunk"><text x="598" y="1145">skunk</text></g>
<g id="p2-S184"><text x="386" y="1202">S184</text></g>
<g id="p2-rocket"><text x="598" y="1174">rocket</text></g>
<g id="p2-cloud"><text x="598" y="1202">cloud</text></g>
<g id="p2-S229"><text x="386" y="1258">S229</text></g>
<g id="p2-palm_tree"><text x="598" y="1230">palm_tree</text></g>
<g id="p2-computer_keyboard"><text x="598" y="1258">computer_keyboard</text></g>
<g id="p2-S276"><text x="386" y="1314">S276</text></g>
<g id="p2-orchid"><text x="598" y="1286">orchid</text></g>
<g id="p2-cattle"><text x="598" y="1314">cattle</text></g>
<g id="p2-S194"><text x="386" y="1371">S194</text></g>
<g id="p2-caterpillar"><text x="598" y="1343">caterpillar</text></g>
<g id="p2-trout"><text x="598" y="1371">trout</text></g>
<g id="p2-S16"><text x="386" y="1427">S16</text></g>
<g id="p2-table"><text x="598" y="1399">table</text></g>
<g id="p2-flatfish"><text x="598" y="1427">flatfish</text></g>
</g>
<g id="nodes-panel3" clip-path="url(#c3)">
<g id="p3-S128"><text x="740" y="74.5">S128</text></g>
<g id="p3-S239"><text x="740" y="91.5">S239</text></g>
<g id="p3-S300"><text x="740" y="108.5">S300</text></g>
<g id="p3-S271"><text x="740" y="125.5">S271</text></g>
<g id="p3-S336"><text x="740" y="142.5">S336</text></g>
<g id="p3-rabbit"><text x="941" y="74.5">rabbit</text></g>
<g id="p3-hamster"><text x="941" y="85.8">hamster</text></g>
<g id="p3-shrew"><text x="941" y="97.2">shrew</text></g>
<g id="p3-possum"><text x="941" y="108.5">possum</text></g>
<g id="p3-squirrel"><text x="941" y="119.8">squirrel</text></g>
<g id="p3-raccoon"><text x="941" y="131.2">raccoon</text></g>
<g id="p3-mouse"><text x="941" y="142.5">mouse</text></g>
<g id="p3-S204"><text x="740" y="211">S204</text></g>
<g id="p3-S157"><text x="740" y="224.6">S157</text></g>
<g id="p3-S22"><text x="740" y="238.2">S22</text></g>
<g id="p3-S200"><text x="740" y="251.8">S200</text></g>
<g id="p3-S221"><text x="740" y="265.4">S221</text></g>
<g id="p3-S381"><text x="740" y="279">S381</text></g>
<g id="p3-man"><text x="974" y="211">man</text></g>
<g id="p3-flatfish"><text x="974" y="224.6">flatfish</text></g>
<g id="p3-baby"><text x="974" y="238.2">baby</text></g>
<g id="p3-woman"><text x="974" y="251.8">woman</text></g>
<g id="p3-girl"><text x="974" y="265.4">girl</text></g>
<g id="p3-boy"><text x="974" y="279">boy</text></g>
<g id="p3-S355"><text x="773.5" y="327">S355</text></g>
<g id="p3-S189"><text x="773.5" y="335.3">S189</text></g>
<g id="p3-S176"><text x="773.5" y="343.7">S176</text></g>
<g id="p3-S379"><text x="773.5" y="352">S379</text></g>
<g id="p3-S17"><text x="773.5" y="360.3">S17</text></g>
<g id="p3-S347"><text x="773.5" y="368.7">S347</text></g>
<g id="p3-S151"><text x="773.5" y="377">S151</text></g>
<g id="p3-whale"><text x="974" y="327">whale</text></g>
<g id="p3-shark"><text x="974" y="339.5">shark</text></g>
<g id="p3-turtle"><text x="974" y="352">turtle</text></g>
<g id="p3-ray"><text x="974" y="364.5">ray</text></g>
<g id="p3-dolphin"><text x="974" y="377">dolphin</text></g>
<g id="p3-S405"><text x="740" y="434">S405</text></g>
<g id="p3-S71"><text x="740" y="452.7">S71</text></g>
<g id="p3-S327"><text x="740" y="471.3">S327</text></g>
<g id="p3-S138"><text x="740" y="490">S138</text></g>
<g id="p3-forest"><text x="936" y="434">forest</text></g>
<g id="p3-palm_tree"><text x="936" y="445.2">palm_tree</text></g>
<g id="p3-oak_tree"><text x="936" y="456.4">oak_tree</text></g>
<g id="p3-maple_tree"><text x="936" y="467.6">maple_tree</text></g>
<g id="p3-pine_tree"><text x="936" y="478.8">pine_tree</text></g>
<g id="p3-willow_tree"><text x="936" y="490">willow_tree</text></g>
<g id="p3-S321"><text x="740" y="547">S321</text></g>
<g id="p3-S291"><text x="740" y="561.3">S291</text></g>
<g id="p3-S259"><text x="740" y="575.5">S259</text></g>
<g id="p3-S31"><text x="740" y="589.8">S31</text></g>
<g id="p3-S210"><text x="740" y="604">S210</text></g>
<g id="p3-bottle"><text x="974" y="547">bottle</text></g>
<g id="p3-plate"><text x="974" y="561.3">plate</text></g>
<g id="p3-bowl"><text x="974" y="575.5">bowl</text></g>
<g id="p3-cup"><text x="974" y="589.8">cup</text></g>
<g id="p3-can"><text x="974" y="604">can</text></g>
<g id="p3-S135"><text x="763.5" y="645">S135</text></g>
<g id="p3-S332"><text x="763.5" y="655.3">S332</text></g>
<g id="p3-S329"><text x="763.5" y="665.5">S329</text></g>
<g id="p3-S289"><text x="763.5" y="675.8">S289</text></g>
<g id="p3-S306"><text x="763.5" y="686">S306</text></g>
<g id="p3-orchid"><text x="975" y="645">orchid</text></g>
<g id="p3-poppy"><text x="975" y="658.7">poppy</text></g>
<g id="p3-rose"><text x="975" y="672.3">rose</text></g>
<g id="p3-tulip"><text x="975" y="686">tulip</text></g>
<g id="p3-S370"><text x="740" y="731">S370</text></g>
<g id="p3-S18"><text x="740" y="746">S18</text></g>
<g id="p3-S106"><text x="740" y="761">S106</text></g>
<g id="p3-S133"><text x="740" y="776">S133</text></g>
<g id="p3-bus"><text x="975" y="731">bus</text></g>
<g id="p3-pickup_truck"><text x="975" y="746">pickup_truck</text></g>
<g id="p3-streetcar"><text x="975" y="761">streetcar</text></g>
<g id="p3-train"><text x="975" y="776">train</text></g>
<g id="p3-S193"><text x="740" y="822.5">S193</text></g>
<g id="p3-S198"><text x="740" y="837.5">S198</text></g>
<g id="p3-S30"><text x="740" y="852.5">S30</text></g>
<g id="p3-S185"><text x="740" y="867.5">S185</text></g>
<g id="p3-apple"><text x="974" y="822.5">apple</text></g>
<g id="p3-sweet_pepper"><text x="974" y="837.5">sweet_pepper</text></g>
<g id="p3-orange"><text x="974" y="852.5">orange</text></g>
<g id="p3-pear"><text x="974" y="867.5">pear</text></g>
<g id="p3-S98"><text x="769.5" y="897.5">S98</text></g>
<g id="p3-S2"><text x="769.5" y="907.5">S2</text></g>
<g id="p3-S219"><text x="769.5" y="917">S219</text></g>
<g id="p3-S49"><text x="769.5" y="927">S49</text></g>
<g id="p3-snake"><text x="973" y="897.5">snake</text></g>
<g id="p3-worm"><text x="973" y="912.3">worm</text></g>
<g id="p3-lizard"><text x="973" y="927">lizard</text></g>
<g id="p3-S78"><text x="740" y="956.5">S78</text></g>
<g id="p3-S227"><text x="740" y="984">S227</text></g>
<g id="p3-sea"><text x="936" y="956.5">sea</text></g>
<g id="p3-mountain"><text x="936" y="970.3">mountain</text></g>
<g id="p3-skyscraper"><text x="936" y="984">skyscraper</text></g>
<g id="p3-S272"><text x="740" y="1012">S272</text></g>
<g id="p3-S216"><text x="740" y="1040">S216</text></g>
<g id="p3-fox"><text x="936" y="1012">fox</text></g>
<g id="p3-lion"><text x="936" y="1026">lion</text></g>
<g id="p3-wolf"><text x="936" y="1040">wolf</text></g>
<g id="p3-S168"><text x="740" y="1069">S168</text></g>
<g id="p3-S360"><text x="740" y="1097">S360</text></g>
<g id="p3-bed"><text x="936" y="1069">bed</text></g>
<g id="p3-chair"><text x="936" y="1083">chair</text></g>
<g id="p3-couch"><text x="936" y="1097">couch</text></g>
<g id="p3-S284"><text x="740" y="1126">S284</text></g>
<g id="p3-S61"><text x="740" y="1154">S61</text></g>
<g id="p3-beaver"><text x="936" y="1126">beaver</text></g>
<g id="p3-porcupine"><text x="936" y="1140">porcupine</text></g>
<g id="p3-seal"><text x="936" y="1154">seal</text></g>
<g id="p3-S350"><text x="740" y="1189">S350</text></g>
<g id="p3-tractor"><text x="916" y="1172">tractor</text></g>
<g id="p3-tank"><text x="916" y="1189">tank</text></g>
<g id="p3-S403"><text x="740" y="1223">S403</text></g>
<g id="p3-lawn_mower"><text x="916" y="1206">lawn_mower</text></g>
<g id="p3-motorcycle"><text x="916" y="1223">motorcycle</text></g>
<g id="p3-S107"><text x="740" y="1257">S107</text></g>
<g id="p3-plain"><text x="916" y="1240">plain</text></g>
<g id="p3-road"><text x="916" y="1257">road</text></g>
<g id="p3-S40"><text x="740" y="1291">S40</text></g>
<g id="p3-castle"><text x="916" y="1274">castle</text></g>
<g id="p3-house"><text x="916" y="1291">house</text></g>
<g id="p3-S393"><text x="740" y="1325">S393</text></g>
<g id="p3-leopard"><text x="916" y="1308">leopard</text></g>
<g id="p3-tiger"><text x="916" y="1325">tiger</text></g>
<g id="p3-S240"><text x="740" y="1359">S240</text></g>
<g id="p3-kangaroo"><text x="916" y="1342">kangaroo</text></g>
<g id="p3-bear"><text x="916" y="1359">bear</text></g>
<g id="p3-S178"><text x="740" y="1393">S178</text></g>
<g id="p3-beetle"><text x="916" y="1376">beetle</text></g>
<g id="p3-cockroach"><text x="916" y="1393">cockroach</text></g>
<g id="p3-S248"><text x="740" y="1427">S248</text></g>
<g id="p3-spider"><text x="916" y="1410">spider</text></g>
<g id="p3-bee"><text x="916" y="1427">bee</text></g>
</g>
</svg>
